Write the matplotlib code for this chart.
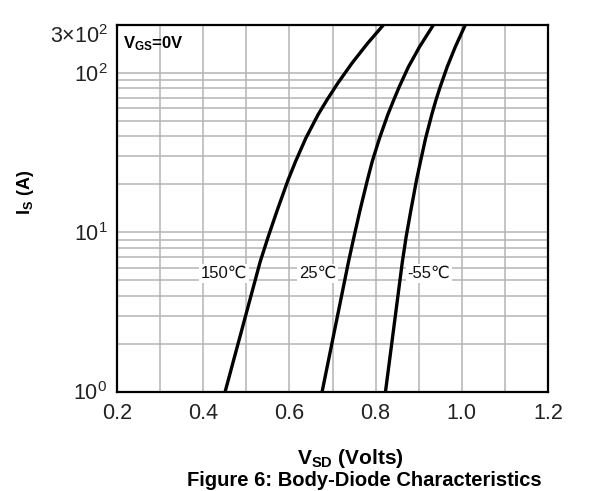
import matplotlib
matplotlib.use('Agg')
import matplotlib.pyplot as plt
from matplotlib.ticker import FixedLocator, NullFormatter

plt.rcParams['font.family'] = ['Liberation Sans', 'DejaVu Sans']
plt.rcParams['mathtext.fontset'] = 'custom'
plt.rcParams['mathtext.rm'] = 'Liberation Sans'
plt.rcParams['mathtext.bf'] = 'Liberation Sans:bold'
plt.rcParams['mathtext.default'] = 'regular'

# === Dati ===
I_150 = [1.0, 6.5, 9.4, 13.8, 21.3, 27.7, 38.9, 54.4, 67.6, 86, 115, 153, 200]
V_150 = [0.451, 0.532, 0.551, 0.572, 0.597, 0.614, 0.638, 0.666, 0.687, 0.712, 0.745, 0.781, 0.818]

I_25 = [1.0, 6.5, 9.4, 13.8, 21.3, 27.7, 38.9, 54.4, 67.6, 82, 109, 146, 200]
V_25 = [0.676, 0.737, 0.750, 0.764, 0.781, 0.792, 0.809, 0.828, 0.842, 0.855, 0.876, 0.902, 0.934]

I_m55 = [1.0, 6.5, 9.4, 13.8, 21.3, 27.7, 38.9, 54.4, 67.6, 82, 109, 146, 200]
V_m55 = [0.823, 0.862, 0.871, 0.882, 0.895, 0.904, 0.916, 0.930, 0.940, 0.950, 0.966, 0.985, 1.008]

curve_labels = ['150℃', '25℃', '-55℃']
label_v = [0.449, 0.665, 0.924]
label_i = [5.5, 5.5, 5.5]

x_ticks = [0.2, 0.4, 0.6, 0.8, 1.0, 1.2]
x_ticklabels = ['0.2', '0.4', '0.6', '0.8', '1.0', '1.2']
x_minor = [0.3, 0.5, 0.7, 0.9, 1.1]
y_ticks = [1, 10, 100]
y_ticklabels = ['10$^0$', '10$^1$', '10$^2$']
y_minor = [2, 3, 4, 5, 6, 7, 8, 9, 20, 30, 40, 50, 60, 70, 80, 90]

GRID = '#b4b4b4'

fig = plt.figure(figsize=(5.93, 4.91), dpi=100)
ax = fig.add_axes([117 / 593, 1 - 391.5 / 491, 431 / 593, 366.5 / 491])

ax.set_yscale('log')
ax.set_xlim(0.2, 1.2)
ax.set_ylim(1, 200)

# griglia
ax.xaxis.set_major_locator(FixedLocator(x_ticks))
ax.set_xticklabels(x_ticklabels)
ax.xaxis.set_minor_locator(FixedLocator(x_minor))
ax.yaxis.set_major_locator(FixedLocator(y_ticks))
ax.set_yticklabels(y_ticklabels)
ax.yaxis.set_minor_locator(FixedLocator(y_minor))
ax.yaxis.set_minor_formatter(NullFormatter())
ax.grid(True, which='both', axis='both', color=GRID, linewidth=1.1)
ax.set_axisbelow(True)
ax.tick_params(axis='both', which='both', length=0, labelsize=15.5, colors='#222222')
ax.tick_params(axis='x', pad=8)
ax.tick_params(axis='y', pad=7)

for spine in ax.spines.values():
    spine.set_color('black')
    spine.set_linewidth(1.6)

for v, i in [(V_150, I_150), (V_25, I_25), (V_m55, I_m55)]:
    ax.plot(v, i, color='black', linewidth=2.4, solid_capstyle='round',
            solid_joinstyle='round', zorder=4)

for name, v, i in zip(curve_labels, label_v, label_i):
    ax.text(v, i, name, ha='center', va='center', fontsize=12, color='#111111',
            bbox=dict(boxstyle='square,pad=0.1', facecolor='white', edgecolor='none'),
            zorder=5)

ax.text(0.015, 0.975, r'$\mathbf{V_{GS}}$=0V', transform=ax.transAxes,
        ha='left', va='top', fontsize=12, weight='bold')

# etichetta in cima all'asse y
ax.text(-0.02, 200, '3×10$^2$', transform=ax.get_yaxis_transform(),
        ha='right', va='top', fontsize=15.5, color='#222222')

fig.text(26 / 593, 1 - 192 / 491, r'$\mathbf{I_S}$ (A)', rotation=90,
         ha='center', va='center', fontsize=13, weight='bold')
fig.text(350 / 593, 1 - 459 / 491, r'$\mathbf{V_{SD}}$ (Volts)',
         ha='center', va='center', fontsize=15, weight='bold')
fig.text(364 / 593, 1 - 480 / 491, 'Figure 6: Body-Diode Characteristics',
         ha='center', va='center', fontsize=14.5, weight='bold')

plt.savefig('out.png', dpi=100, facecolor='white')
plt.close()
